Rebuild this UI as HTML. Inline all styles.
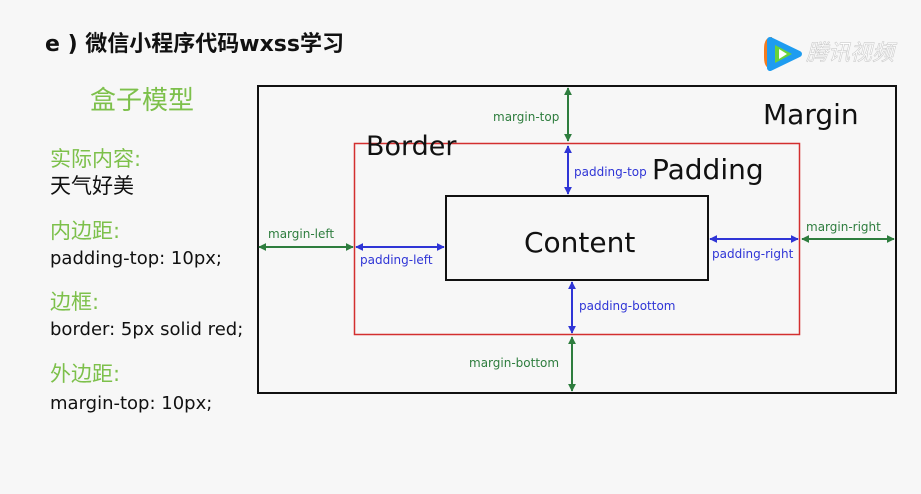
<!DOCTYPE html>
<html><head><meta charset="utf-8"><style>
html,body{margin:0;padding:0;background:#f7f7f7;}
svg{display:block}
</style></head><body>
<svg width="921" height="494" viewBox="0 0 921 494" xmlns="http://www.w3.org/2000/svg" font-family="'DejaVu Sans','Noto Sans CJK SC',sans-serif">
<defs>
<marker id="g" viewBox="0 0 10 10" refX="9" refY="5" markerWidth="4" markerHeight="4" orient="auto-start-reverse"><path d="M0,0L10,5L0,10z" fill="#2e7d3e"/></marker>
<marker id="b" viewBox="0 0 10 10" refX="9" refY="5" markerWidth="4" markerHeight="4" orient="auto-start-reverse"><path d="M0,0L10,5L0,10z" fill="#2f35d6"/></marker>
</defs>
<rect width="921" height="494" fill="#f7f7f7"/>
<text x="45" y="51" font-size="22" font-weight="bold" fill="#111" font-family="'DejaVu Sans','Noto Sans CJK SC',sans-serif">e ) 微信小程序代码wxss学习</text>
<!-- logo -->
<path d="M772,37 q-8,0 -8,12 v8 q0,12 8,12z" fill="#f57c1f"/>
<path d="M770,40 L799,54 L770,68z" fill="#1e9cf0" stroke="#1e9cf0" stroke-width="6" stroke-linejoin="round"/>
<path d="M775,45 L792,54 L775,63z" fill="#6ad33a"/>
<path d="M779,49 L787,54 L779,59z" fill="#fff"/>
<text x="806" y="60" font-size="22" font-style="italic" fill="#fff" stroke="#ccc" stroke-width="0.6" font-family="'Noto Sans CJK SC',sans-serif">腾讯视频</text>
<g font-family="'DejaVu Sans','Noto Sans CJK SC',sans-serif">
<text x="90" y="109" font-size="26" fill="#7dc04b">盒子模型</text>
<text x="50" y="166" font-size="21" fill="#7dc04b">实际内容:</text>
<text x="50" y="193" font-size="21" fill="#111">天气好美</text>
<text x="50" y="238" font-size="21" fill="#7dc04b">内边距:</text>
<text x="50" y="264" font-size="18" fill="#111">padding-top: 10px;</text>
<text x="50" y="309" font-size="21" fill="#7dc04b">边框:</text>
<text x="50" y="335" font-size="18" fill="#111">border: 5px solid red;</text>
<text x="50" y="381" font-size="21" fill="#7dc04b">外边距:</text>
<text x="50" y="409" font-size="18" fill="#111">margin-top: 10px;</text>
</g>
<rect x="258" y="86" width="638" height="307" fill="none" stroke="#111" stroke-width="2"/>
<rect x="354.5" y="143.5" width="445" height="191" fill="none" stroke="#d32f2f" stroke-width="1.5"/>
<rect x="446" y="196" width="262" height="84" fill="none" stroke="#111" stroke-width="2"/>
<text x="763" y="124" font-size="28" fill="#111">Margin</text>
<text x="366" y="155" font-size="27" fill="#111">Border</text>
<text x="652" y="179" font-size="28" fill="#111">Padding</text>
<text x="524" y="252" font-size="28" fill="#111">Content</text>
<g stroke-width="2" fill="none">
<line x1="568" y1="88" x2="568" y2="141" stroke="#2e7d3e" marker-start="url(#g)" marker-end="url(#g)"/>
<line x1="568" y1="146" x2="568" y2="194" stroke="#2f35d6" marker-start="url(#b)" marker-end="url(#b)"/>
<line x1="572" y1="282" x2="572" y2="333" stroke="#2f35d6" marker-start="url(#b)" marker-end="url(#b)"/>
<line x1="572" y1="337" x2="572" y2="391" stroke="#2e7d3e" marker-start="url(#g)" marker-end="url(#g)"/>
<line x1="259" y1="247" x2="353" y2="247" stroke="#2e7d3e" marker-start="url(#g)" marker-end="url(#g)"/>
<line x1="356" y1="247" x2="444" y2="247" stroke="#2f35d6" marker-start="url(#b)" marker-end="url(#b)"/>
<line x1="710" y1="239" x2="798" y2="239" stroke="#2f35d6" marker-start="url(#b)" marker-end="url(#b)"/>
<line x1="802" y1="239" x2="894" y2="239" stroke="#2e7d3e" marker-start="url(#g)" marker-end="url(#g)"/>
</g>
<g font-size="12">
<text x="493" y="121" fill="#2e7d3e">margin-top</text>
<text x="574" y="176" fill="#2f35d6">padding-top</text>
<text x="268" y="238" fill="#2e7d3e">margin-left</text>
<text x="360" y="264" fill="#2f35d6">padding-left</text>
<text x="712" y="258" fill="#2f35d6">padding-right</text>
<text x="806" y="231" fill="#2e7d3e">margin-right</text>
<text x="579" y="310" fill="#2f35d6">padding-bottom</text>
<text x="469" y="367" fill="#2e7d3e">margin-bottom</text>
</g>
</svg>
</body></html>
